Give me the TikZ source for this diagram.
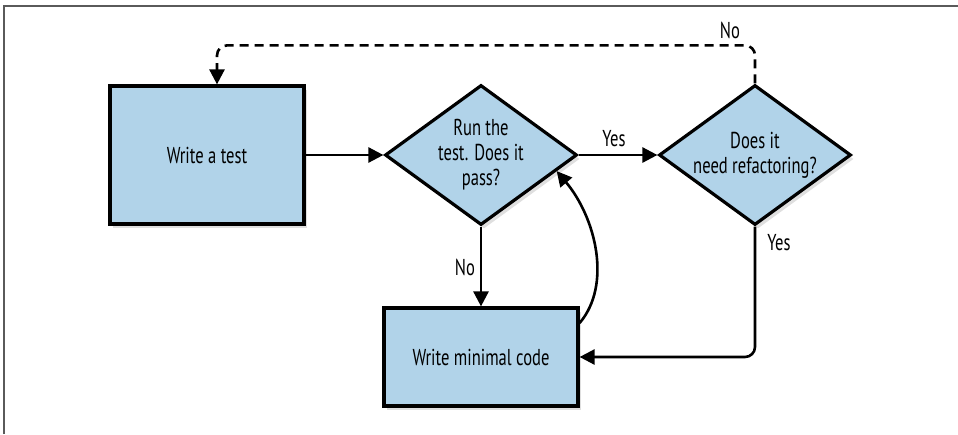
\documentclass[tikz,border=0pt]{standalone}
\usepackage{fontspec}
\setmainfont{PT Sans}[FakeStretch=0.72]
\usetikzlibrary{shapes.geometric, arrows.meta, shadows}

\definecolor{boxblue}{RGB}{177,211,233}
\definecolor{framegray}{RGB}{90,90,90}

\begin{document}
\begin{tikzpicture}[%
        x = 1pt,
        y = -1pt,
        font = \fontsize{23}{25}\selectfont,
        my box/.style = {%
          draw = black,
          line width = 3.2pt,
          fill = boxblue,
          drop shadow = {shadow xshift=3pt, shadow yshift=-4pt, opacity=0.25},
          align = center,
          inner sep = 0pt,
        },
        my step/.style = {%
          my box,
          rectangle,
          minimum width = 194pt,
        },
        my test/.style = {%
          my box,
          diamond,
          minimum width = 192pt,
          minimum height = 140pt,
          shape aspect = 1.37,
        },
        my arrow/.style = {%
          line width = 2.6pt,
          -{Triangle[width=15pt, length=15pt]},
        },
        my label/.style = {%
          inner sep = 0pt,
        },
      ]
      \useasboundingbox (0,0) rectangle (958,434);
      % frame
      \draw[framegray, line width=1.5pt] (4,434) -- (4,6) -- (958,6);
      % boxes
      \node[my step, minimum height=138pt] (test)     at (207,155) {Write a test};
      \node[my test]                       (run)      at (481,155) {Run the\\test. Does it\\pass?};
      \node[my test]                       (refactor) at (755,155) {Does it\\need refactoring?};
      \node[my step, minimum height=98pt]  (code)     at (481,357) {Write minimal code};
      % connectors
      \draw[my arrow] (test.east) -- (run.west);
      \draw[my arrow] (run.east) -- (refactor.west);
      \draw[my arrow] (run.south) -- (code.north);
      \draw[my arrow] (code.19) .. controls (612,285) and (596,218) .. (run.-12);
      \draw[my arrow, rounded corners=10pt] (refactor.south) |- (code.east);
      \draw[my arrow, dash pattern=on 9pt off 6pt, rounded corners=10pt]
        (refactor.north) -- ++(0,-38) -| ([xshift=10pt]test.north);
      % labels
      \node[my label] (yes run)      at (614,139) {Yes};
      \node[my label] (no run)       at (465,267) {No};
      \node[my label] (yes refactor) at (779,243) {Yes};
      \node[my label] (no refactor)  at (730,30)  {No};
    \end{tikzpicture}
\end{document}
